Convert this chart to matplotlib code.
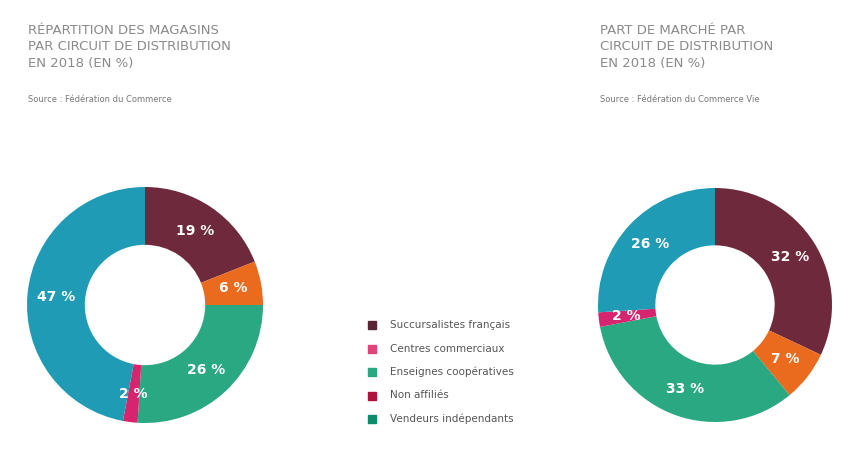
import matplotlib.pyplot as plt

categories = ["Succursalistes français", "Centres commerciaux", "Enseignes coopératives", "Non affiliés", "Vendeurs indépendants"]
left_vals = [19, 6, 26, 2, 47]
right_vals = [32, 7, 33, 2, 26]
left_colors = ["#6e2a3c", "#ea6a1e", "#2aa882", "#d6246e", "#1f9bb5"]
legend_colors = ["#5a2333", "#e0427a", "#2aa882", "#b0123e", "#0f8a6a"]
left_title = "RÉPARTITION DES MAGASINS\nPAR CIRCUIT DE DISTRIBUTION\nEN 2018 (EN %)"
right_title = "PART DE MARCHÉ PAR\nCIRCUIT DE DISTRIBUTION\nEN 2018 (EN %)"
left_src = "Source : Fédération du Commerce"
right_src = "Source : Fédération du Commerce Vie"

fig = plt.figure(figsize=(8.61, 4.51), dpi=100)
W, H = 861, 451

def donut(cx, cy, r, vals):
    ax = fig.add_axes([(cx - r) / W, 1 - (cy + r) / H, 2 * r / W, 2 * r / H])
    ax.pie(vals, colors=left_colors, startangle=90, counterclock=False,
           wedgeprops=dict(width=0.49, edgecolor="none"),
           labels=[f"{v} %" for v in vals], labeldistance=0.76,
           textprops=dict(color="white", fontsize=10, fontweight="bold", ha="center", va="center"))
    ax.set_xlim(-1, 1)
    ax.set_ylim(-1, 1)
    ax.set_aspect("equal")
    return ax

donut(145, 305, 118, left_vals)
donut(715, 305, 117, right_vals)

for x, t, s in [(28, left_title, left_src), (600, right_title, right_src)]:
    fig.text(x / W, 1 - 24 / H, t, fontsize=9.5, color="#8a8a8a", va="top", ha="left", linespacing=1.35)
    fig.text(x / W, 1 - 95 / H, s, fontsize=6, color="#777777", va="top", ha="left")

for i, (c, col) in enumerate(zip(categories, legend_colors)):
    y = 1 - (325 + i * 23.5) / H
    fig.patches.append(plt.Rectangle((368 / W, y - 4 / H), 8 / W, 8 / H, color=col, transform=fig.transFigure))
    fig.text(390 / W, y, c, fontsize=7.5, color="#555555", va="center")

fig.savefig("out.png", dpi=100)
